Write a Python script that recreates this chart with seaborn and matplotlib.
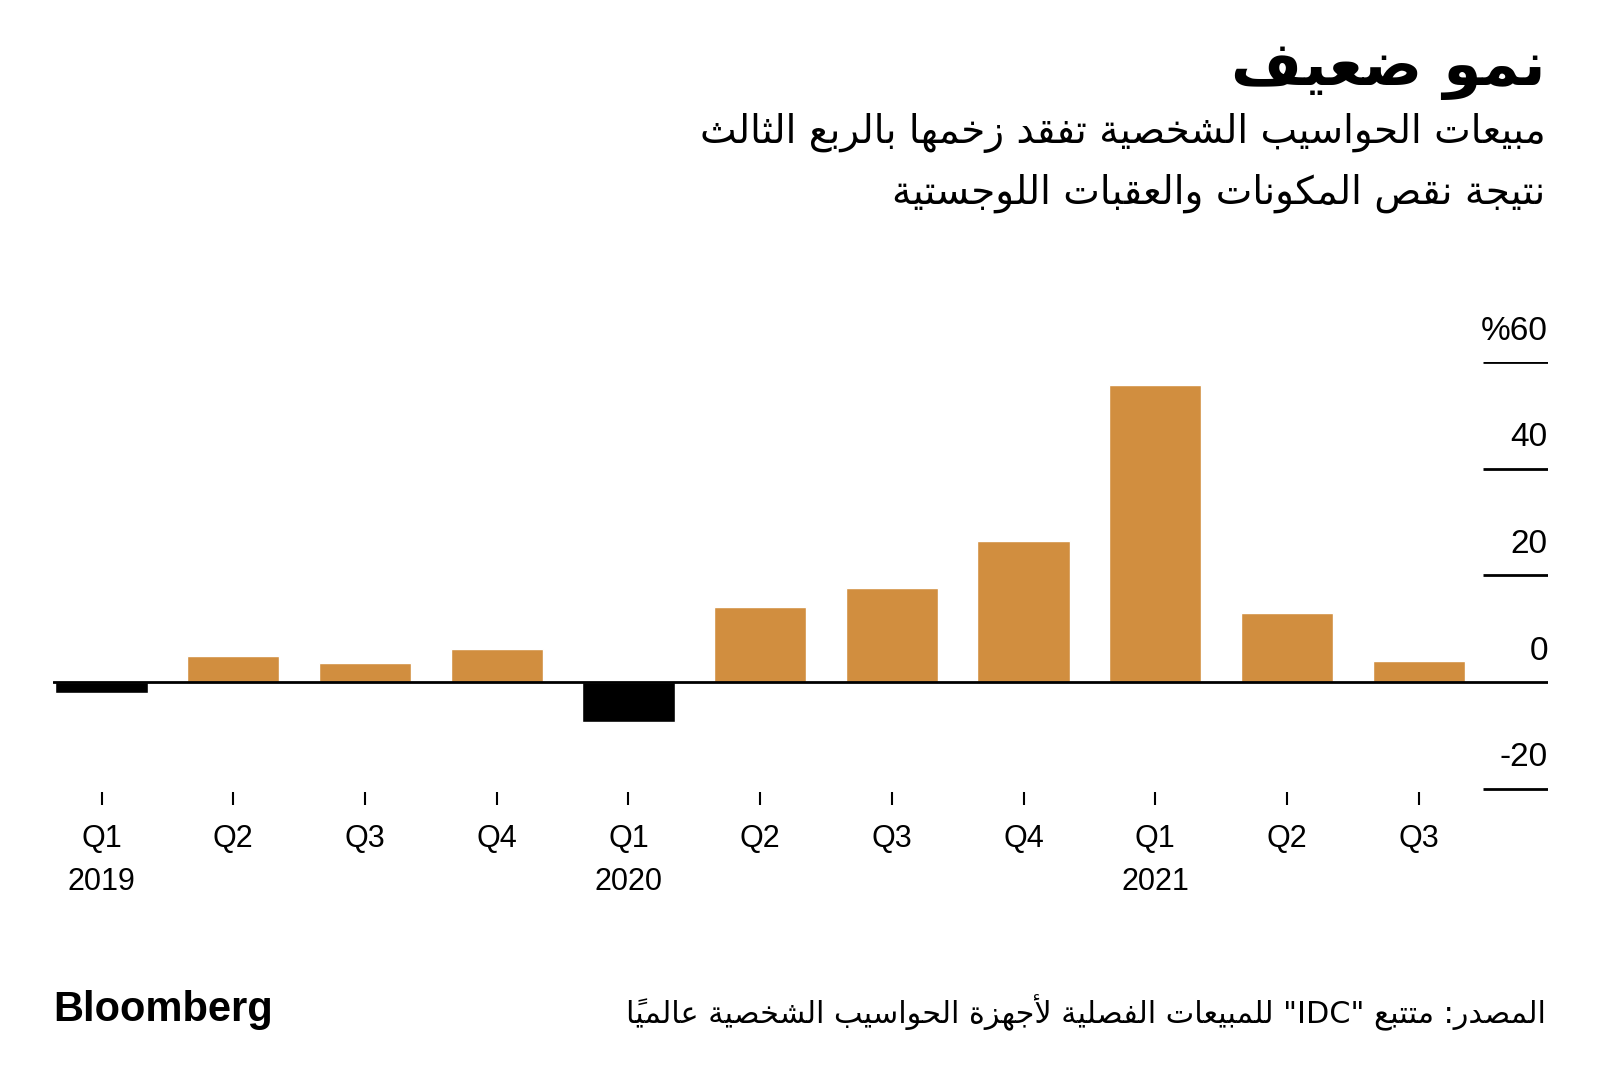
"""
PC shipments growth chart (Bloomberg style, Arabic labels).
"""
import re
import matplotlib
matplotlib.use("Agg")
import matplotlib.pyplot as plt
import seaborn as sns

# data
periods = ["2019Q1", "2019Q2", "2019Q3", "2019Q4",
           "2020Q1", "2020Q2", "2020Q3", "2020Q4",
           "2021Q1", "2021Q2", "2021Q3"]
quarters = ["Q1", "Q2", "Q3", "Q4", "Q1", "Q2", "Q3", "Q4", "Q1", "Q2", "Q3"]
years = ["2019", "", "", "", "2020", "", "", "", "2021", "", ""]
growth = [-2.1, 4.8, 3.5, 6.2, -7.5, 14.0, 17.6, 26.5, 55.7, 13.0, 4.0]

y_ticks = [60, 40, 20, 0, -20]
y_labels = ["%60", "40", "20", "0", "-20"]

title = "نمو ضعيف"
subtitle = ["مبيعات الحواسيب الشخصية تفقد زخمها بالربع الثالث",
            "نتيجة نقص المكونات والعقبات اللوجستية"]
source = "المصدر: متتبع \"IDC\" للمبيعات الفصلية لأجهزة الحواسيب الشخصية عالمياً"

ORANGE = "#D18E3F"
BLACK = "#000000"


# minimal Arabic shaping + visual ordering (matplotlib has no complex layout)
AR_FORMS = {
    "\u0627": (0xFE8D, 2), "\u0623": (0xFE83, 2), "\u0628": (0xFE8F, 4),
    "\u0629": (0xFE93, 2), "\u062A": (0xFE95, 4), "\u062B": (0xFE99, 4),
    "\u062C": (0xFE9D, 4), "\u062D": (0xFEA1, 4), "\u062E": (0xFEA5, 4),
    "\u062F": (0xFEA9, 2), "\u0631": (0xFEAD, 2), "\u0632": (0xFEAF, 2),
    "\u0633": (0xFEB1, 4), "\u0634": (0xFEB5, 4), "\u0635": (0xFEB9, 4),
    "\u0636": (0xFEBD, 4), "\u0639": (0xFEC9, 4), "\u0641": (0xFED1, 4),
    "\u0642": (0xFED5, 4), "\u0643": (0xFED9, 4), "\u0644": (0xFEDD, 4),
    "\u0645": (0xFEE1, 4), "\u0646": (0xFEE5, 4), "\u0647": (0xFEE9, 4),
    "\u0648": (0xFEED, 2), "\u064A": (0xFEF1, 4),
    "\uFEF7": (0xFEF7, 2), "\uFEFB": (0xFEFB, 2),
}


def _is_mark(c):
    return "\u064B" <= c <= "\u0652"


def shape(text):
    text = text.replace("\u0644\u0623", "\uFEF7").replace("\u0644\u0627", "\uFEFB")
    chars = list(text)

    def neighbour(i, step):
        j = i + step
        while 0 <= j < len(chars) and _is_mark(chars[j]):
            j += step
        return chars[j] if 0 <= j < len(chars) else ""

    out = []
    for i, c in enumerate(chars):
        if c not in AR_FORMS:
            out.append(c)
            continue
        start, n = AR_FORMS[c]
        p, nx = neighbour(i, -1), neighbour(i, 1)
        join_prev = p in AR_FORMS and AR_FORMS[p][1] == 4
        join_next = n == 4 and nx in AR_FORMS
        if join_prev and join_next:
            k = 3
        elif join_prev:
            k = 1
        elif join_next:
            k = 2
        else:
            k = 0
        out.append(chr(start + k))
    return "".join(out)


def ar(text):
    shaped = shape(text)
    runs = re.findall(r"[A-Za-z0-9]+|[^A-Za-z0-9]+", shaped)
    vis = []
    for run in runs:
        if re.match(r"[A-Za-z0-9]", run):
            vis.append(run)
            continue
        clusters = []
        for c in run:
            if _is_mark(c) and clusters:
                clusters[-1] += c
            else:
                clusters.append(c)
        vis.append("".join(reversed(clusters)))
    return "".join(reversed(vis))


sns.set_theme(style="white")
plt.rcParams["font.family"] = ["Liberation Sans", "DejaVu Sans"]
plt.rcParams["text.color"] = "black"
plt.rcParams["xtick.color"] = "black"
AR_FONT = ["DejaVu Sans"]

fig = plt.figure(figsize=(16, 10.89), dpi=100)
ax = fig.add_axes([0.033, 0.2724, 0.9344, 0.3952])

sns.barplot(x=periods, y=growth, hue=periods,
            palette=[ORANGE if v >= 0 else BLACK for v in growth],
            width=0.7, legend=False, saturation=1, ax=ax)

ax.set_xlim(-0.37, 10.98)
ax.set_ylim(-20.7, 60)

# zero line across, short gridline stubs at the right
ax.axhline(0, color="black", linewidth=2, zorder=3)
ax.hlines([t for t in y_ticks if t != 0], 10.49, 10.98, color="black", linewidth=2)
for t, lab in zip(y_ticks, y_labels):
    ax.annotate(lab, xy=(10.98, t), xytext=(0, 11), textcoords="offset points",
                ha="right", va="bottom", fontsize=24, color="black")

ax.set_yticks([])
ax.set_xticks(range(len(periods)))
ax.set_xticklabels([f"{q}\n{y}" if y else q for q, y in zip(quarters, years)],
                   fontsize=22, linespacing=1.55, color="black", va="top")
ax.tick_params(axis="x", direction="out", length=9, width=1.5, color="black",
               pad=14, bottom=True)
ax.set_xlabel("")
ax.set_ylabel("")
for side in ["top", "right", "left", "bottom"]:
    ax.spines[side].set_visible(False)

# titles
fig.text(0.966, 1 - 70 / 1089, ar(title), ha="right", va="center",
         fontsize=44, fontweight="bold", family=AR_FONT)
fig.text(0.966, 1 - 133 / 1089, ar(subtitle[0]), ha="right", va="center",
         fontsize=28, family=AR_FONT)
fig.text(0.966, 1 - 193 / 1089, ar(subtitle[1]), ha="right", va="center",
         fontsize=28, family=AR_FONT)

# footer
fig.text(0.966, 1 - 1013 / 1089, ar(source), ha="right", va="center",
         fontsize=21.8, family=AR_FONT)
fig.text(0.033, 1 - 1010 / 1089, "Bloomberg", ha="left", va="center",
         fontsize=30, fontweight="bold")

fig.savefig("out.png", dpi=100, facecolor="white")
plt.close(fig)
